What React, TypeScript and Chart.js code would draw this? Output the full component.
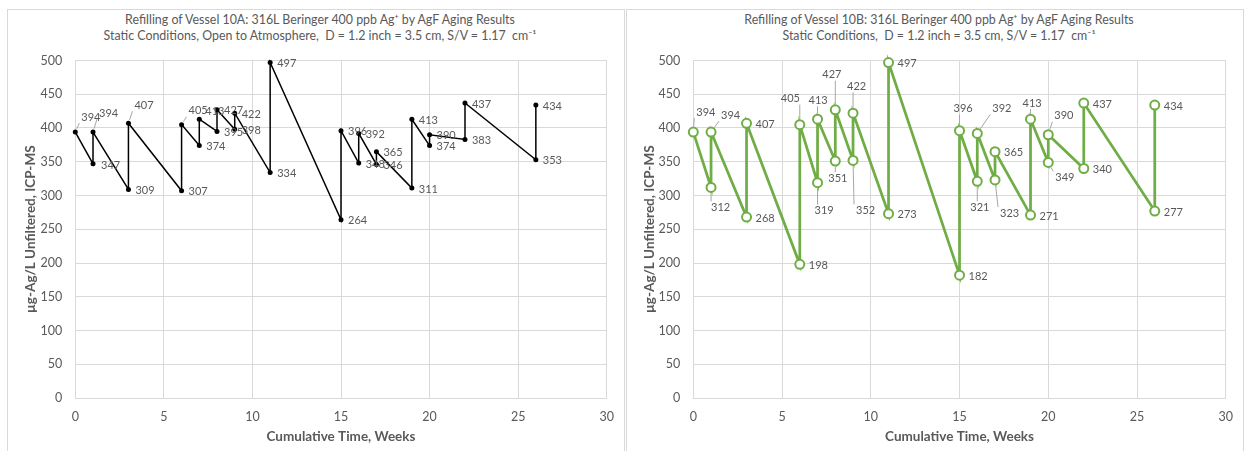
import React, { useEffect, useRef } from "react";
import { Chart, registerables } from "chart.js";

Chart.register(...registerables);

// ---- Data ----
const pointWeeks = [0, 1, 1, 3, 3, 6, 6, 7, 7, 8, 8, 9, 9, 11, 11, 15, 15, 16, 16, 17, 17, 19, 19, 20, 20, 22, 22, 26, 26];
const vessel10A = [394, 347, 394, 309, 407, 307, 405, 374, 413, 395, 427, 398, 422, 334, 497, 264, 396, 348, 392, 346, 365, 311, 413, 374, 390, 383, 437, 353, 434];
const vessel10B = [394, 312, 394, 268, 407, 198, 405, 319, 413, 351, 427, 352, 422, 273, 497, 182, 396, 321, 392, 323, 365, 271, 413, 349, 390, 340, 437, 277, 434];

const titleA = [
  "Refilling of Vessel 10A: 316L Beringer 400 ppb Ag\u207A by AgF Aging Results",
  "Static Conditions, Open to Atmosphere,  D = 1.2 inch = 3.5 cm, S/V = 1.17  cm\u207B\u00B9",
];
const titleB = [
  "Refilling of Vessel 10B: 316L Beringer 400 ppb Ag\u207A by AgF Aging Results",
  "Static Conditions,  D = 1.2 inch = 3.5 cm, S/V = 1.17  cm\u207B\u00B9",
];
const yAxisTitle = "\u00B5g-Ag/L Unfiltered, ICP-MS";
const xAxisTitle = "Cumulative Time, Weeks";

// label placement (index -> [dx from point to label left edge, dy, leader line])
const labelPlaceA: Record<number, [number, number, boolean]> = {
  0: [6, -15, true],
  1: [8, 2, false],
  2: [6, -19, true],
  4: [6, -18, true],
  6: [7, -14, true],
  8: [6, -8, false],
};
const labelPlaceB: Record<number, [number, number, boolean]> = {
  0: [3, -20, true],
  1: [0, 20, true],
  2: [10, -17, true],
  6: [-19, -26, true],
  7: [-3, 28, true],
  8: [-9, -19, true],
  9: [-7, 17, true],
  10: [-13, -35, true],
  11: [3, 50, true],
  12: [-6, -27, true],
  16: [-6, -22, true],
  17: [-7, 26, true],
  18: [15, -25, true],
  19: [5, 33, true],
  22: [-8, -16, true],
  23: [7, 15, true],
  24: [6, -19, true],
};

const TEXT = "#595959";
const GRID = "#d9d9d9";
const FONT = "Lato, 'Open Sans', sans-serif";

function makeLabelPlugin(place: Record<number, [number, number, boolean]>, defDx: number, radius: number) {
  return {
    id: "pointLabels",
    afterDatasetsDraw(chart: any) {
      const meta = chart.getDatasetMeta(0);
      const ctx = chart.ctx as CanvasRenderingContext2D;
      const data = chart.data.datasets[0].data as { x: number; y: number }[];
      ctx.save();
      ctx.font = `11px ${FONT}`;
      ctx.textAlign = "left";
      ctx.textBaseline = "middle";
      meta.data.forEach((el: any, i: number) => {
        const txt = String(data[i].y);
        const p = place[i];
        const dx = p ? p[0] : defDx;
        const dy = p ? p[1] : 1;
        const lx = el.x + dx;
        const ly = el.y + dy;
        const w = ctx.measureText(txt).width;
        if (p && p[2]) {
          const bl = lx - 2, br = lx + w + 2, bt = ly - 6, bb = ly + 6;
          const cx = Math.min(Math.max(el.x, bl), br);
          const cy = Math.min(Math.max(el.y, bt), bb);
          const d = Math.hypot(cx - el.x, cy - el.y);
          if (d > radius + 2) {
            const ux = (cx - el.x) / d, uy = (cy - el.y) / d;
            ctx.beginPath();
            ctx.strokeStyle = "#a6a6a6";
            ctx.lineWidth = 1;
            ctx.moveTo(el.x + ux * (radius + 1), el.y + uy * (radius + 1));
            ctx.lineTo(cx, cy);
            ctx.stroke();
          }
        }
        ctx.fillStyle = TEXT;
        ctx.fillText(txt, lx, ly);
      });
      ctx.restore();
    },
  };
}

type PanelProps = {
  left: number;
  width: number;
  values: number[];
  place: Record<number, [number, number, boolean]>;
  green: boolean;
  padL: number;
  yW: number;
  padR: number;
};

function ChartPanel({ left, width, values, place, green, padL, yW, padR }: PanelProps) {
  const ref = useRef<HTMLCanvasElement | null>(null);
  useEffect(() => {
    if (!ref.current) return;
    const pts = pointWeeks.map((w, i) => ({ x: w, y: values[i] }));
    const color = green ? "#70ad47" : "#000000";
    const radius = green ? 4.5 : 2.5;
    const chart = new Chart(ref.current, {
      type: "scatter",
      data: {
        datasets: [
          {
            data: pts,
            showLine: true,
            clip: false,
            borderColor: color,
            borderWidth: green ? 2.75 : 1.5,
            pointRadius: radius,
            pointBorderWidth: green ? 2 : 0,
            pointBackgroundColor: green ? "#ffffff" : "#000000",
            pointBorderColor: color,
          },
        ],
      },
      options: {
        animation: false,
        responsive: false,
        layout: { padding: { left: padL, right: padR, top: 60.5, bottom: 5 } },
        plugins: { legend: { display: false }, tooltip: { enabled: false } },
        scales: {
          x: {
            type: "linear",
            min: 0,
            max: 30,
            ticks: { stepSize: 5, color: TEXT, font: { family: FONT, size: 12.5 }, padding: 11 },
            grid: { color: GRID, drawTicks: false },
            border: { color: GRID },
            title: {
              display: true,
              text: xAxisTitle,
              color: TEXT,
              font: { family: FONT, size: 13.5, weight: "bold" },
              padding: { top: 0, bottom: 1 },
            },
            afterFit: (s: any) => {
              s.height = 48;
            },
          },
          y: {
            min: 0,
            max: 500,
            ticks: { stepSize: 50, color: TEXT, font: { family: FONT, size: 12.5 }, padding: 13 },
            grid: { color: GRID, drawTicks: false },
            border: { color: GRID },
            title: {
              display: true,
              text: yAxisTitle,
              color: TEXT,
              font: { family: FONT, size: 13.5, weight: "bold" },
              padding: { top: 3, bottom: 0 },
            },
            afterFit: (s: any) => {
              s.width = yW;
            },
          },
        },
      } as any,
      plugins: [makeLabelPlugin(place, green ? 9 : 7, radius)],
    });
    return () => chart.destroy();
  }, []);
  return (
    <canvas
      ref={ref}
      width={width}
      height={451}
      style={{ position: "absolute", left, top: 0, width, height: 451 }}
    />
  );
}

function Title({ lines, center }: { lines: string[]; center: number }) {
  return (
    <div
      style={{
        position: "absolute",
        left: center - 300,
        width: 600,
        top: 12,
        textAlign: "center",
        fontFamily: FONT,
        fontSize: 12.4,
        lineHeight: "16px",
        color: TEXT,
        whiteSpace: "pre",
      }}
    >
      {lines.map((l, i) => (
        <div key={i}>{l}</div>
      ))}
    </div>
  );
}

export default function App() {
  return (
    <div
      style={{
        position: "fixed",
        left: 0,
        top: 0,
        width: 1244,
        height: 451,
        background: "#ffffff",
        overflow: "hidden",
      }}
    >
      <div
        style={{
          position: "absolute",
          left: 7,
          top: 9,
          width: 618,
          height: 460,
          border: `1px solid ${GRID}`,
          boxSizing: "border-box",
        }}
      />
      <div
        style={{
          position: "absolute",
          left: 626,
          top: 9,
          width: 618,
          height: 460,
          border: `1px solid ${GRID}`,
          boxSizing: "border-box",
        }}
      />
      <Title lines={titleA} center={320} />
      <Title lines={titleB} center={939} />
      <ChartPanel left={0} width={625} values={vessel10A} place={labelPlaceA} green={false} padL={20} yW={55.3} padR={18.3} />
      <ChartPanel left={625} width={619} values={vessel10B} place={labelPlaceB} green={true} padL={14} yW={54.3} padR={16.7} />
    </div>
  );
}
